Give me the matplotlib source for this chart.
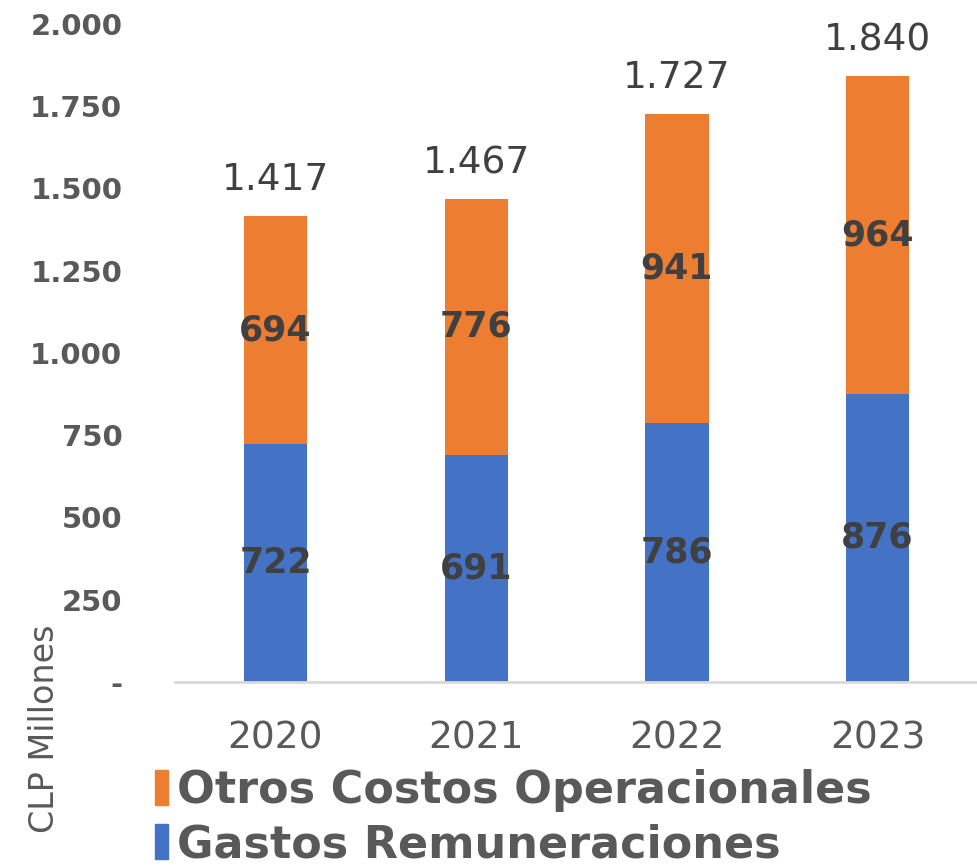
import matplotlib.pyplot as plt
from matplotlib.patches import Patch

years = ["2020", "2021", "2022", "2023"]
gastos = [722, 691, 786, 876]
otros = [694, 776, 941, 964]
totales = ["1.417", "1.467", "1.727", "1.840"]
yticks = [0, 250, 500, 750, 1000, 1250, 1500, 1750, 2000]
ytick_labels = ["-", "250", "500", "750", "1.000", "1.250", "1.500", "1.750", "2.000"]

azul = "#4472C4"
naranja = "#ED7D31"
gris = "#595959"
oscuro = "#404040"

fig = plt.figure(figsize=(9.78, 8.66), dpi=100)
ax = fig.add_axes([0.179, 0.2125, 0.821, 0.76])

x = range(len(years))
b1 = ax.bar(x, gastos, width=0.315, color=azul)
b2 = ax.bar(x, otros, width=0.315, bottom=gastos, color=naranja)

ax.bar_label(b1, labels=[str(v) for v in gastos], label_type="center",
             fontsize=25, fontweight="bold", color=oscuro)
ax.bar_label(b2, labels=[str(v) for v in otros], label_type="center",
             fontsize=25, fontweight="bold", color=oscuro)
ax.bar_label(b2, labels=totales, padding=13, fontsize=27, color=oscuro)

ax.set_xlim(-0.5, 3.5)
ax.set_ylim(0, 2000)
ax.set_yticks(yticks)
ax.set_yticklabels(ytick_labels, fontsize=21, fontweight="bold", color=gris)
ax.set_xticks(list(x))
ax.set_xticklabels(years, fontsize=27, color=gris)
ax.tick_params(axis="both", length=0)
ax.tick_params(axis="x", pad=28)
ax.tick_params(axis="y", pad=38)

for s in ["top", "right", "left"]:
    ax.spines[s].set_visible(False)
ax.spines["bottom"].set_color("#d9d9d9")
ax.spines["bottom"].set_linewidth(2)

fig.text(0.046, 0.159, "CLP Millones", rotation=90, fontsize=24, color=gris,
         ha="center", va="center")

handles = [Patch(color=naranja), Patch(color=azul)]
fig.legend(handles, ["Otros Costos Operacionales", "Gastos Remuneraciones"],
           loc="upper left", bbox_to_anchor=(0.158, 0.112), frameon=False,
           borderpad=0, borderaxespad=0,
           handlelength=0.3, handleheight=0.85, handletextpad=0.2, labelspacing=0.25,
           prop={"weight": "bold", "size": 32}, labelcolor=gris)

fig.savefig("out.png", dpi=100)
